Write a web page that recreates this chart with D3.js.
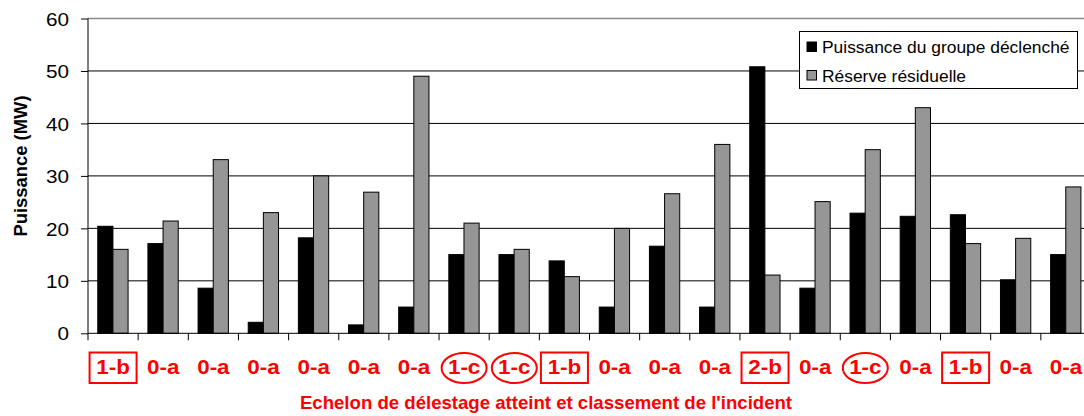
<!DOCTYPE html>
<html><head><meta charset="utf-8">
<script src="https://cdn.jsdelivr.net/npm/d3@7"></script>
<style>body{margin:0;background:#fff}svg{display:block;font-family:"Liberation Sans",Arial,sans-serif}</style>
</head><body><svg id="c" width="1084" height="416"></svg>
<script>
const categories = ["1-b","0-a","0-a","0-a","0-a","0-a","0-a","1-c","1-c","1-b","0-a","0-a","0-a","2-b","0-a","1-c","0-a","1-b","0-a","0-a"];
const puissance = [20.4,17.1,8.6,2.1,18.2,1.6,5.0,15.0,15.0,13.8,5.0,16.6,5.0,50.8,8.6,22.9,22.3,22.6,10.2,15.0];
const reserve = [16.0,21.4,33.1,23.0,30.0,26.9,49.0,21.0,16.0,10.8,20.0,26.6,36.0,11.1,25.1,35.0,43.0,17.1,18.1,27.9];
const seriesNames = ["Puissance du groupe déclenché","Réserve résiduelle"];
const yTicks = [0,10,20,30,40,50,60];

const svg = d3.select("#c");
const L = 88, R = 1091, T = 18.5, B = 333.3;
const x = d3.scaleBand().domain(d3.range(categories.length)).range([L, R]);
const y = d3.scaleLinear().domain([0, 60]).range([B, T]);
const sub = d3.scaleBand().domain([0,1]).range([-15.3, 15]);
const colors = ["#000000", "#969696"];

// gridlines
svg.append("g").selectAll("line").data(yTicks.filter(d => d > 0)).join("line")
  .attr("x1", L).attr("x2", 1084).attr("y1", d => y(d)).attr("y2", d => y(d))
  .attr("stroke", d => d === 60 ? "#8a8a8a" : "#000").attr("stroke-width", d => d === 60 ? 1.5 : 1);

// bars
const series = [puissance, reserve];
series.forEach((vals, si) => {
  svg.append("g").selectAll("rect").data(vals).join("rect")
    .attr("x", (d, i) => x(i) + x.bandwidth() / 2 + sub(si))
    .attr("width", sub.bandwidth())
    .attr("y", d => y(d)).attr("height", d => B - y(d))
    .attr("fill", colors[si]).attr("stroke", "#000").attr("stroke-width", 1);
});

// y axis
const ya = svg.append("g").attr("transform", `translate(${L},0)`)
  .call(d3.axisLeft(y).tickValues(yTicks).tickSize(7).tickPadding(12));
ya.select(".domain").attr("stroke", "#000").attr("d", `M0,${T}V${B}`);
ya.selectAll(".tick line").attr("stroke", "#000");
ya.selectAll(".tick text").attr("font-size", 18.5).attr("fill", "#000")
  .attr("font-family", "Liberation Sans, Arial").attr("dy", "0.36em")
  .attr("transform", "translate(-19,0) scale(1.12,1) translate(19,0)");

// x axis line & ticks at boundaries
svg.append("line").attr("x1", L).attr("x2", 1084).attr("y1", B).attr("y2", B).attr("stroke", "#000");
svg.append("g").selectAll("line").data(d3.range(categories.length + 1)).join("line")
  .attr("x1", i => L + i * x.step()).attr("x2", i => L + i * x.step())
  .attr("y1", B).attr("y2", B + 7).attr("stroke", "#000");

// category labels with markers
const cg = svg.append("g").selectAll("g").data(categories).join("g")
  .attr("transform", (d, i) => `translate(${x(i) + x.bandwidth() / 2},0)`);
cg.filter(d => d.endsWith("b")).append("rect")
  .attr("x", -23.5).attr("y", 352.5).attr("width", 47).attr("height", 30.5)
  .attr("fill", "none").attr("stroke", "#ff0000").attr("stroke-width", 2);
cg.filter(d => d.endsWith("c")).append("ellipse")
  .attr("cx", 0).attr("cy", 368).attr("rx", 22.5).attr("ry", 15)
  .attr("fill", "none").attr("stroke", "#ff0000").attr("stroke-width", 2);
cg.append("text").attr("text-anchor", "middle").attr("y", 374.5)
  .attr("transform", "scale(1.12,1)")
  .attr("font-size", 20).attr("font-weight", "bold").attr("fill", "#ff0000").text(d => d);

// axis titles
svg.append("text").attr("x", 546).attr("y", 408.5).attr("text-anchor", "middle")
  .attr("font-size", 18.6).attr("font-weight", "bold").attr("fill", "#ff0000")
  .text("Echelon de délestage atteint et classement de l'incident");
svg.append("text").attr("transform", "translate(27,166) rotate(-90)").attr("text-anchor", "middle")
  .attr("font-size", 18.4).attr("font-weight", "bold").attr("fill", "#000").text("Puissance (MW)");

// legend
const lg = svg.append("g");
lg.append("rect").attr("x", 799.5).attr("y", 31.5).attr("width", 278).attr("height", 57)
  .attr("fill", "#fff").attr("stroke", "#000").attr("stroke-width", 1);
seriesNames.forEach((n, i) => {
  lg.append("rect").attr("x", 807).attr("y", 42 + i * 28.5).attr("width", 9.5).attr("height", 9.5)
    .attr("fill", colors[i]).attr("stroke", "#000");
  lg.append("text").attr("x", 822).attr("y", 53 + i * 28.5).attr("font-size", 17.4).attr("fill", "#000").text(n);
});
</script></body></html>
